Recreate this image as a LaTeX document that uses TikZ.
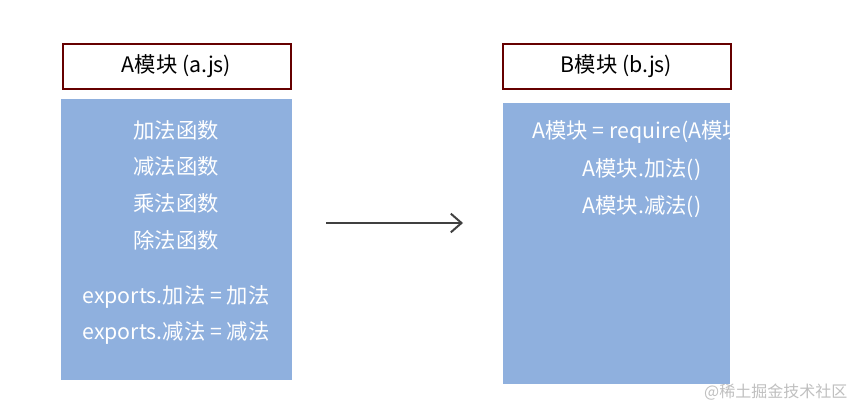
\documentclass[tikz,border=0pt]{standalone}
\usepackage{fontspec}
\usetikzlibrary{arrows.meta}
\setmainfont{Noto Sans CJK SC}
\begin{document}
\begin{tikzpicture}[x=0.75pt,y=-0.75pt,
  hdr/.style={draw=red!40!black,line width=1.5pt,fill=white,minimum width=171pt,minimum height=34pt,font=\fontsize{16}{18}\selectfont},
  wt/.style={text=white,font=\fontsize{16}{18}\selectfont}]
\useasboundingbox (0,0) rectangle (857,414);
\definecolor{bbody}{HTML}{8FB0DE}
\node[hdr] (ha) at (176.5,66.5) {A模块 (a.js)};
\node[hdr] (hb) at (616.5,66.5) {B模块 (b.js)};
\node[fill=bbody,minimum width=173pt,minimum height=211pt,inner sep=0] (ba) at (176.5,239.5) {};
\node[fill=bbody,minimum width=170pt,minimum height=211pt,inner sep=0] (bb) at (616.5,243.5) {};
\node[wt] (a1) at (176,130) {加法函数};
\node[wt] (a2) at (176,166) {减法函数};
\node[wt] (a3) at (176,203) {乘法函数};
\node[wt] (a4) at (176,240) {除法函数};
\node[wt] (a5) at (176,297) {exports.加法 = 加法};
\node[wt] (a6) at (176,333) {exports.减法 = 减法};
\node[wt] (b1) at (642,132) {A模块 = require(A模块)};
\node[wt] (b2) at (642,170) {A模块.加法()};
\node[wt] (b3) at (642,207) {A模块.减法()};
\coordinate (s) at (326,223);
\coordinate (e) at (463,223);
\draw[-{Straight Barb[length=8pt,width=14pt]},line width=1.5pt,draw=black!75] (s) -- (e);
\node[text=black!25,font=\fontsize{12}{14}\selectfont,anchor=east] (wm) at (852,392) {@稀土掘金技术社区};
\end{tikzpicture}
\end{document}
